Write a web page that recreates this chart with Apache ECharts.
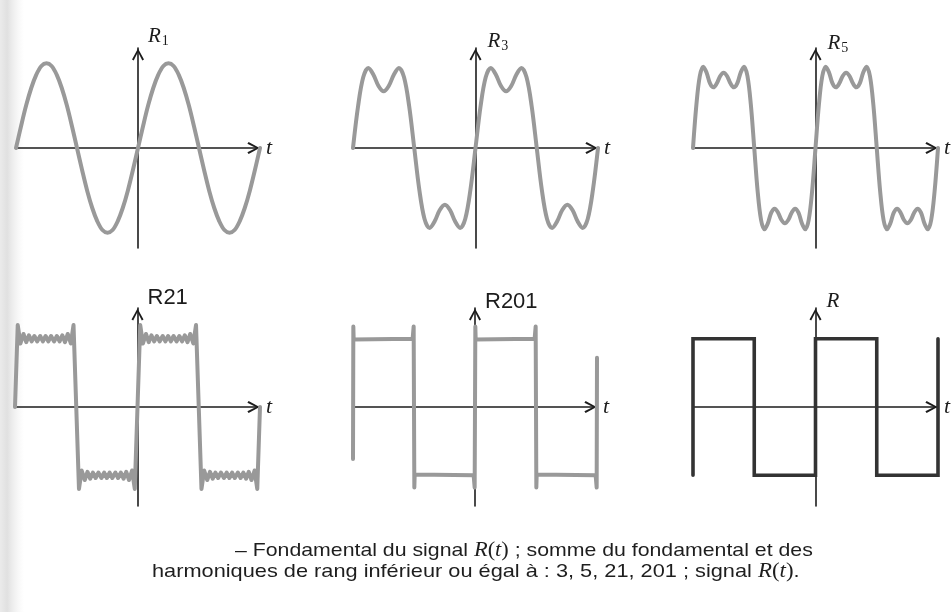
<!DOCTYPE html>
<html>
<head>
<meta charset="utf-8">
<script src="https://cdn.jsdelivr.net/npm/echarts@6/dist/echarts.min.js"></script>
<style>
  html, body { margin: 0; padding: 0; background: #ffffff; }
  #chart { width: 952px; height: 612px; }
</style>
</head>
<body>
<div id="chart"></div>
<script>
// Phase t in degrees: one half-period = 180, each panel spans two periods.
const tDeg15 = [-360,-345,-330,-315,-300,-285,-270,-255,-240,-225,-210,-195,-180,-165,-150,-135,-120,-105,-90,-75,-60,-45,-30,-15,0,15,30,45,60,75,90,105,120,135,150,165,180,195,210,225,240,255,270,285,300,315,330,345,360];
const tDeg10 = [-360,-350,-340,-330,-320,-310,-300,-290,-280,-270,-260,-250,-240,-230,-220,-210,-200,-190,-180,-170,-160,-150,-140,-130,-120,-110,-100,-90,-80,-70,-60,-50,-40,-30,-20,-10,0,10,20,30,40,50,60,70,80,90,100,110,120,130,140,150,160,170,180,190,200,210,220,230,240,250,260,270,280,290,300,310,320,330,340,350,360];

// Fundamental R1
const r1Values = [
  0,0.33,0.64,0.90,1.10,1.23,1.27,1.23,1.10,0.90,0.64,0.33,0,
  -0.33,-0.64,-0.90,-1.10,-1.23,-1.27,-1.23,-1.10,-0.90,-0.64,-0.33,0,
  0.33,0.64,0.90,1.10,1.23,1.27,1.23,1.10,0.90,0.64,0.33,0,
  -0.33,-0.64,-0.90,-1.10,-1.23,-1.27,-1.23,-1.10,-0.90,-0.64,-0.33,0
];

// Fundamental + 3rd harmonic
const r3Values = [
  0,0.63,1.06,1.20,1.10,0.93,0.85,0.93,1.10,1.20,1.06,0.63,0,
  -0.63,-1.06,-1.20,-1.10,-0.93,-0.85,-0.93,-1.10,-1.20,-1.06,-0.63,0,
  0.63,1.06,1.20,1.10,0.93,0.85,0.93,1.10,1.20,1.06,0.63,0,
  -0.63,-1.06,-1.20,-1.10,-0.93,-0.85,-0.93,-1.10,-1.20,-1.06,-0.63,0
];

// Harmonics up to rank 5
const r5Values = [
  0,0.65,1.08,1.22,1.13,0.97,0.91,0.97,1.08,1.13,1.08,0.97,0.91,0.97,1.13,1.22,1.08,0.65,0,
  -0.65,-1.08,-1.22,-1.13,-0.97,-0.91,-0.97,-1.08,-1.13,-1.08,-0.97,-0.91,-0.97,-1.13,-1.22,-1.08,-0.65,0,
  0.65,1.08,1.22,1.13,0.97,0.91,0.97,1.08,1.13,1.08,0.97,0.91,0.97,1.13,1.22,1.08,0.65,0,
  -0.65,-1.08,-1.22,-1.13,-0.97,-0.91,-0.97,-1.08,-1.13,-1.08,-0.97,-0.91,-0.97,-1.13,-1.22,-1.08,-0.65,0
];

// Harmonics up to rank 21 (ripple extrema)
const tR21 = [
  -360,-352,-344,-335,-327,-319,-311,-303,-295,-286,-278,-270,-262,-254,-245,-237,-229,-221,-213,-205,-196,-188,-180,
  -172,-164,-155,-147,-139,-131,-123,-115,-106,-98,-90,-82,-74,-65,-57,-49,-41,-33,-25,-16,-8,0,
  8,16,25,33,41,49,57,65,74,82,90,98,106,115,123,131,139,147,155,164,172,180,
  188,196,205,213,221,229,237,245,254,262,270,278,286,295,303,311,319,327,335,344,352,360
];
const r21Values = [
  0,1.2,0.93,1.07,0.95,1.05,0.96,1.04,0.96,1.04,0.96,1.04,0.96,1.04,0.96,1.04,0.96,1.05,0.95,1.07,0.93,1.2,0,
  -1.2,-0.93,-1.07,-0.95,-1.05,-0.96,-1.04,-0.96,-1.04,-0.96,-1.04,-0.96,-1.04,-0.96,-1.04,-0.96,-1.05,-0.95,-1.07,-0.93,-1.2,0,
  1.2,0.93,1.07,0.95,1.05,0.96,1.04,0.96,1.04,0.96,1.04,0.96,1.04,0.96,1.04,0.96,1.05,0.95,1.07,0.93,1.2,0,
  -1.2,-0.93,-1.07,-0.95,-1.05,-0.96,-1.04,-0.96,-1.04,-0.96,-1.04,-0.96,-1.04,-0.96,-1.04,-0.96,-1.05,-0.95,-1.07,-0.93,-1.2,0
];

// Harmonics up to rank 201
const tR201 = [-360,-359,-358,-356, -184,-182,-181,-180,-179,-178,-176, -4,-2,-1,0,1,2,4, 176,178,179,180,181,182,184, 356,358,359,360];
const r201Values = [-0.76,1.18,0.99,1.0, 1.0,0.99,1.18,0,-1.18,-0.99,-1.0, -1.0,-0.99,-1.18,0,1.18,0.99,1.0, 1.0,0.99,1.18,0,-1.18,-0.99,-1.0, -1.0,-0.99,-1.18,0.72];

// Square signal R(t)
const tSquare = [-360,-360,-180,-180,0,0,180,180,360,360];
const rSquare = [-1,1,1,-1,-1,1,1,-1,-1,1];

// Axis name labels
const axisTitles = ['{r|R}{s|1}', '{r|R}{s|3}', '{r|R}{s|5}', 'R21', 'R201', '{r|R}'];
const timeLabel = 't';

// ---- layout & styling ----
const ARROW = 'path://M6 0 L12 11 L10.3 12.2 L6 3.6 L1.7 12.2 L0 11 Z';
const INK = '#1c1c1c';
const CURVE = '#999999';

const layout = [
  { grid: { left: 16,  top: 48,  width: 244, height: 200 }, yr: 1.5,  gap: 11.5, pad: 10, sans: false },
  { grid: { left: 353, top: 48,  width: 245, height: 200 }, yr: 1.5,  gap: 6.5,  pad: 12, sans: false },
  { grid: { left: 693, top: 48,  width: 245, height: 200 }, yr: 1.5,  gap: 4.5,  pad: 12, sans: false },
  { grid: { left: 15,  top: 308, width: 245, height: 198 }, yr: 1.45, gap: 10.5, pad: 10, sans: true },
  { grid: { left: 353, top: 308, width: 244, height: 198 }, yr: 1.45, gap: 6,    pad: 10, sans: true },
  { grid: { left: 693, top: 308, width: 245, height: 198 }, yr: 1.45, gap: 6.5,  pad: 11, sans: false }
];

const signals = [
  { t: tDeg15, v: r1Values,   smooth: 0.35, color: CURVE, width: 4,   join: 'round' },
  { t: tDeg15, v: r3Values,   smooth: 0.35, color: CURVE, width: 4,   join: 'round' },
  { t: tDeg10, v: r5Values,   smooth: 0.35, color: CURVE, width: 4,   join: 'round' },
  { t: tR21,   v: r21Values,  smooth: false, color: CURVE, width: 4,  join: 'round' },
  { t: tR201,  v: r201Values, smooth: false, color: CURVE, width: 4,  join: 'round' },
  { t: tSquare, v: rSquare,   smooth: false, color: '#333333', width: 3.6, join: 'miter' }
];

const serifRich = {
  r: { fontFamily: 'Liberation Serif', fontStyle: 'italic', fontSize: 21, color: INK },
  s: { fontFamily: 'Liberation Serif', fontSize: 14, color: INK, padding: [10, 0, 0, 1] }
};

const axisLine = {
  onZero: true,
  lineStyle: { color: INK, width: 1.6 },
  symbol: ['none', ARROW],
  symbolSize: [12, 13],
  symbolOffset: [0, -6.5]
};

const grids = layout.map(p => Object.assign({ outerBoundsMode: 'none', containLabel: false }, p.grid));

const xAxes = layout.map((p, i) => ({
  gridIndex: i, type: 'value', min: -360, max: 360,
  axisLine: axisLine, axisTick: { show: false }, axisLabel: { show: false }, splitLine: { show: false },
  name: timeLabel, nameLocation: 'end', nameGap: 6,
  nameTextStyle: { fontFamily: 'Liberation Serif', fontStyle: 'italic', fontSize: 22, color: INK,
                   align: 'left', verticalAlign: 'middle', padding: [4, 0, 0, 0] }
}));

const yAxes = layout.map((p, i) => ({
  gridIndex: i, type: 'value', min: -p.yr, max: p.yr,
  axisLine: axisLine, axisTick: { show: false }, axisLabel: { show: false }, splitLine: { show: false },
  name: axisTitles[i], nameLocation: 'end', nameGap: p.gap,
  nameTextStyle: p.sans
    ? { fontFamily: 'Liberation Sans', fontSize: 22, color: INK, align: 'left', verticalAlign: 'middle', padding: [0, 0, 0, p.pad] }
    : { align: 'left', verticalAlign: 'middle', padding: [0, 0, 0, p.pad], rich: serifRich }
}));

const series = signals.map((s, i) => ({
  type: 'line', xAxisIndex: i, yAxisIndex: i,
  data: s.t.map((x, k) => [x, s.v[k]]),
  showSymbol: false, smooth: s.smooth, clip: false, silent: true, z: 3,
  lineStyle: { color: s.color, width: s.width, cap: 'round', join: s.join }
}));

// Caption lines, set in a slightly widened sans face
const captionRich = {
  a: { fontFamily: 'Liberation Sans', fontSize: 19, fill: '#1e1e1e' },
  i: { fontFamily: 'Liberation Serif', fontStyle: 'italic', fontSize: 20, fill: '#1e1e1e' },
  p: { fontFamily: 'Liberation Serif', fontSize: 20, fill: '#1e1e1e' }
};

const chart = echarts.init(document.getElementById('chart'), null, { renderer: 'canvas' });
chart.setOption({
  animation: false,
  backgroundColor: '#ffffff',
  grid: grids,
  xAxis: xAxes,
  yAxis: yAxes,
  series: series,
  graphic: [
    {
      type: 'rect', silent: true, z: -1,
      shape: { x: 0, y: 0, width: 24, height: 612 },
      style: { fill: new echarts.graphic.LinearGradient(0, 0, 1, 0, [
        { offset: 0, color: 'rgba(175,175,175,0.25)' },
        { offset: 0.3, color: 'rgba(175,175,175,0.38)' },
        { offset: 1, color: 'rgba(210,210,210,0)' }
      ]) }
    },
    {
      type: 'text', x: 235, y: 551, scaleX: 1.12, silent: true,
      style: {
        text: '{a|– Fondamental du signal }{i|R}{p|(}{i|t}{p|)}{a| ; somme du fondamental et des}',
        rich: captionRich, align: 'left', verticalAlign: 'middle'
      }
    },
    {
      type: 'text', x: 152, y: 572, scaleX: 1.145, silent: true,
      style: {
        text: '{a|harmoniques de rang inférieur ou égal à : 3, 5, 21, 201 ; signal }{i|R}{p|(}{i|t}{p|)}{a|.}',
        rich: captionRich, align: 'left', verticalAlign: 'middle'
      }
    }
  ]
});
</script>
</body>
</html>
